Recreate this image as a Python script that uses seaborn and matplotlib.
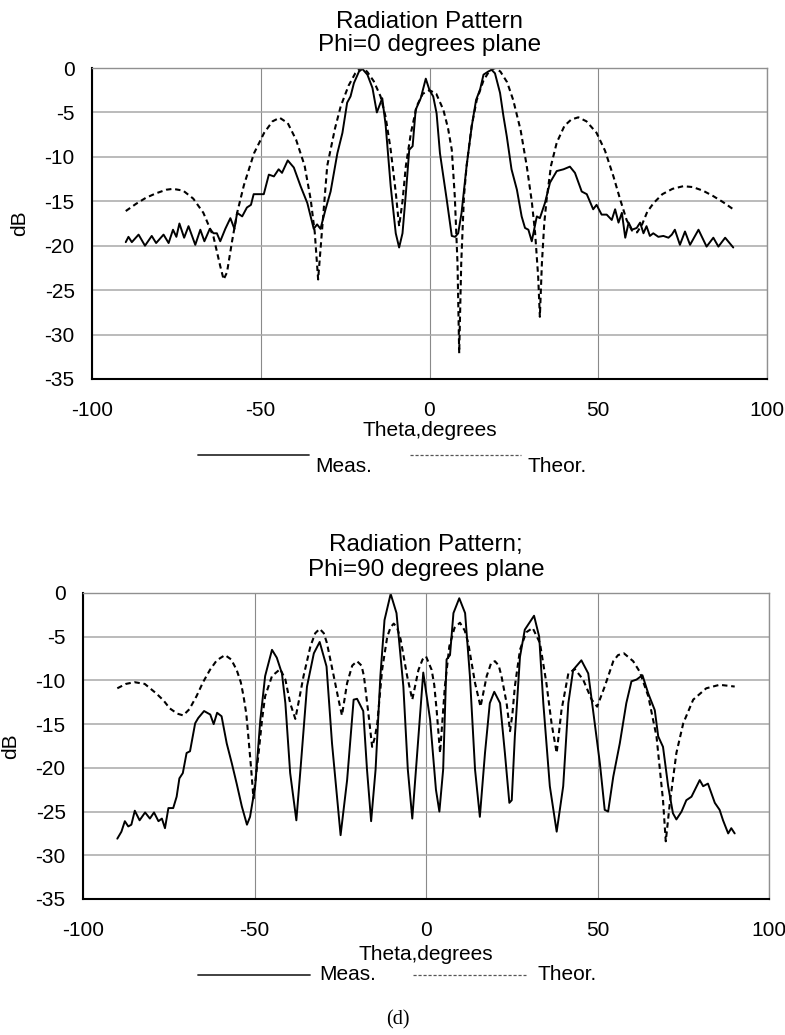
import matplotlib
matplotlib.use("Agg")
import matplotlib.pyplot as plt
from matplotlib.lines import Line2D
import pandas as pd
import seaborn as sns

# ---------------- Phi = 0 degrees plane ----------------
phi0_theor_theta = [-90, -87, -84, -81, -78, -76, -73, -70, -67, -64, -62, -61, -60, -58.5, -57, -55,
                    -52, -49, -46.5, -44.4, -42, -39.5, -37, -35.2, -34, -33, -32, -30.3, -28, -26.3,
                    -24, -22, -20.4, -18.5, -16.5, -14.5, -13, -11.5, -10, -9, -8, -7, -5.5, -3.8, -2,
                    0, 2, 4.1, 5.5, 6.6, 7.5, 8.3, 8.8, 9.4, 10.2, 11, 12.5, 14, 16, 17.8, 19.4, 21,
                    23, 24.8, 27, 28.8, 30.3, 31.3, 32.2, 32.7, 33.3, 34.0, 34.7, 36, 37.7, 40, 42,
                    44.1, 46.5, 49.5, 52, 54.5, 56.5, 58.4, 60, 61.5, 63, 64.5, 66.4, 69, 72, 75.2,
                    78, 81, 84, 87, 90]
phi0_theor_db = [-16.1, -15.3, -14.6, -14.1, -13.7, -13.6, -13.8, -14.7, -16.3, -19.0, -22.3, -23.8,
                 -23.0, -19.5, -16.3, -13.2, -9.6, -7.3, -6.0, -5.6, -6.2, -8.1, -11.0, -14.8, -18.5,
                 -23.8, -19.0, -11.0, -6.8, -4.3, -2.0, -0.6, 0.0, -0.4, -1.5, -3.2, -5.5, -9.2, -14.0,
                 -17.8, -15.0, -11.0, -7.3, -4.3, -2.9, -2.5, -2.9, -4.7, -6.8, -9.2, -14.5, -22.0,
                 -32.1, -22.0, -14.5, -11.0, -6.5, -3.6, -1.4, -0.3, 0.0, -0.4, -1.6, -3.6, -7.0,
                 -11.0, -15.0, -18.6, -23.5, -28.0, -22.0, -17.5, -14.8, -11.0, -8.4, -6.5, -5.8,
                 -5.55, -6.0, -7.3, -9.3, -12.2, -14.8, -17.1, -18.3, -18.5, -17.6, -16.2, -15.2,
                 -14.2, -13.6, -13.3, -13.4, -13.8, -14.4, -15.1, -15.9]

phi0_meas_theta = [-90, -89.2, -88.2, -86.2, -84.3, -82.3, -81.0, -78.8, -77.3, -76.0, -75.0, -74.1,
                   -72.7, -71.4, -69.4, -67.9, -66.7, -65.1, -64.0, -63.0, -62.0, -60.5, -59.0, -57.8,
                   -57.0, -55.5, -54.1, -52.9, -52.1, -50.1, -49.1, -47.6, -46.1, -44.7, -43.7, -42.0,
                   -40.2, -38.2, -36.2, -34.3, -33.3, -32.3, -30.8, -29.3, -27.3, -25.8, -24.4, -23.4,
                   -22.4, -20.9, -19.9, -18.4, -16.9, -15.6, -14.5, -14.0, -13.0, -11.5, -10.0, -9.0,
                   -8.0, -7.0, -6.0, -5.0, -4.1, -2.6, -1.1, 0.0, 1.1, 2.1, 3.1, 4.1, 5.1, 6.6, 7.6,
                   8.5, 9.5, 11.0, 12.5, 13.8, 15.0, 16.0, 17.4, 18.4, 19.4, 20.9, 21.9, 22.9, 24.3,
                   25.9, 27.3, 28.3, 29.3, 30.3, 31.8, 32.7, 34.2, 35.7, 37.7, 39.7, 41.6, 43.1, 45.1,
                   46.6, 48.5, 49.5, 51.0, 52.5, 54.0, 55.0, 56.0, 57.0, 58.0, 59.0, 60.0, 61.4, 62.4,
                   63.4, 64.3, 65.3, 66.3, 67.8, 69.3, 70.8, 71.8, 72.7, 74.2, 75.7, 77.2, 79.7, 82.1,
                   84.1, 85.6, 87.6, 90.0]
phi0_meas_db = [-19.6, -19.0, -19.6, -18.75, -20.0, -18.9, -19.7, -18.75, -19.7, -18.2, -19.0, -17.5,
                -19.1, -17.8, -19.9, -18.2, -19.5, -18.1, -18.6, -18.6, -19.5, -18.1, -16.9, -18.1,
                -16.3, -16.7, -15.7, -15.4, -14.2, -14.2, -14.2, -12.0, -12.2, -11.4, -11.8, -10.4,
                -11.2, -13.3, -15.2, -18.1, -17.6, -18.1, -15.9, -13.9, -9.6, -7.3, -3.9, -3.2, -1.7,
                -0.4, -0.1, -0.75, -2.25, -5.0, -3.9, -3.4, -6.4, -13.3, -18.6, -20.2, -18.6, -14.1,
                -9.2, -8.8, -4.7, -3.4, -1.2, -2.5, -3.2, -5.1, -9.6, -12.2, -14.8, -18.9, -19.0,
                -18.6, -16.3, -11.0, -6.6, -3.6, -2.4, -0.75, -0.4, -0.2, -0.6, -2.8, -5.4, -7.7,
                -11.4, -13.7, -16.7, -18.0, -18.2, -19.5, -16.7, -16.9, -15.2, -12.9, -11.6, -11.4,
                -11.1, -11.8, -13.9, -14.2, -15.9, -15.4, -16.5, -16.5, -17.1, -15.9, -17.4, -16.3,
                -19.1, -17.4, -18.2, -18.0, -17.4, -18.6, -17.8, -18.9, -18.6, -19.0, -18.9, -19.1,
                -18.75, -18.2, -19.9, -18.4, -19.9, -18.2, -20.1, -19.1, -20.1, -19.1, -20.2]

# ---------------- Phi = 90 degrees plane ----------------
phi90_theor_theta = [-90, -87.5, -85, -82, -78.6, -76.5, -74.7, -72.5, -70.8, -69, -66.9, -65, -63,
                     -61, -58.6, -56.8, -55.2, -54, -53.2, -52.4, -51.8, -51, -50.3, -49.6, -48.8,
                     -47.8, -46.9, -44.9, -42.5, -41, -39.6, -38.1, -37, -35.7, -33.7, -32.3, -31,
                     -29.8, -28.9, -26.9, -25.5, -24.5, -23, -21.5, -20.1, -18.8, -18.1, -16.7,
                     -15.7, -14.9, -14.2, -12.8, -11.3, -10.3, -9.4, -8.4, -7.4, -5.5, -4.0, -2.2,
                     -1.0, 0, 1.65, 2.4, 3.1, 4.1, 4.8, 5.5, 6.8, 8.3, 9.9, 11.3, 12.3, 14.3, 15.9,
                     17.7, 19, 20.1, 21.2, 22, 23.5, 24.5, 25.2, 25.9, 27.4, 29.2, 31.1, 33.2, 35.1,
                     36.6, 38.1, 39.5, 41.5, 43.4, 45.8, 48.3, 49.9, 52.1, 54.6, 56, 57.7, 60.4,
                     62.3, 64.8, 67.2, 69.1, 69.9, 71.1, 73, 75, 77.9, 81.7, 85.6, 90]
phi90_theor_db = [-10.9, -10.4, -10.2, -10.4, -11.5, -12.3, -13.2, -13.8, -14.0, -13.3, -11.8,
                  -10.2, -8.8, -7.7, -7.1, -7.6, -8.8, -10.2, -11.8, -13.8, -16.4, -20.0, -23.5,
                  -21.0, -18.3, -14.5, -11.8, -9.5, -8.7, -9.9, -12.6, -14.4, -12.2, -9.5, -6.1,
                  -4.6, -4.1, -4.6, -5.7, -9.5, -12.2, -14.0, -10.3, -8.3, -7.8, -8.3, -9.5, -14.1,
                  -17.6, -16.5, -14.9, -8.8, -5.0, -3.9, -3.5, -4.0, -5.3, -9.5, -12.2, -8.8, -7.6,
                  -7.25, -8.8, -10.5, -13.4, -18.3, -14.5, -10.7, -6.1, -4.0, -3.4, -4.3, -5.7,
                  -10.3, -13.0, -9.5, -8.0, -7.8, -8.3, -9.5, -12.6, -15.8, -13.8, -10.7, -6.5,
                  -4.5, -4.0, -5.7, -10.3, -14.9, -18.3, -13.4, -9.2, -8.7, -9.9, -12.2, -13.0,
                  -10.7, -7.8, -7.1, -6.9, -7.8, -9.0, -11.8, -16.4, -23.7, -28.4, -24.0, -18.3,
                  -14.9, -12.2, -10.9, -10.5, -10.7]

phi90_meas_theta = [-90, -88.8, -87.8, -86.8, -85.9, -84.9, -83.5, -81.9, -80.5, -79.3, -78.0, -77.0,
                    -76.1, -75.1, -73.7, -72.7, -71.9, -70.9, -69.8, -68.8, -67.3, -66.4, -64.7,
                    -62.9, -61.9, -60.9, -59.6, -58.1, -56.6, -55.2, -53.7, -52.2, -51.3, -49.8,
                    -48.3, -46.9, -44.9, -43.5, -42.0, -41.0, -39.6, -37.8, -36.6, -34.7, -32.7,
                    -31.0, -29.0, -27.4, -24.9, -23.0, -21.1, -20.1, -18.3, -17.2, -16.0, -14.7,
                    -13.3, -12.1, -10.3, -8.6, -6.6, -5.3, -4.0, -2.2, -0.8, 1.2, 2.9, 3.9, 5.0, 6.0,
                    7.0, 8.0, 9.7, 11.4, 12.8, 14.3, 15.7, 17.2, 18.6, 19.9, 21.6, 23.0, 24.3, 25.0,
                    25.9, 27.4, 28.8, 31.5, 33.0, 34.2, 36.1, 38.1, 40.0, 41.5, 42.9, 45.3, 47.3,
                    48.7, 50.7, 52.1, 53.1, 54.6, 56.5, 58.4, 59.9, 61.4, 63.1, 64.8, 66.7, 67.7,
                    69.1, 70.6, 72.0, 73.0, 74.5, 75.9, 77.4, 79.8, 80.8, 82.2, 84.2, 85.6, 86.6,
                    88.1, 89.0, 90.0]
phi90_meas_db = [-28.1, -27.3, -26.1, -26.7, -26.5, -24.9, -26.0, -25.1, -25.8, -25.1, -26.1, -25.8,
                 -26.9, -24.6, -24.6, -23.3, -21.2, -20.6, -18.3, -18.1, -14.9, -14.3, -13.5, -13.9,
                 -15.0, -13.7, -14.1, -17.2, -19.5, -21.8, -24.4, -26.5, -25.6, -22.1, -14.5, -9.5,
                 -6.5, -7.4, -9.2, -12.6, -20.6, -26.0, -20.2, -10.7, -6.9, -5.6, -8.4, -17.2, -27.7,
                 -21.4, -12.2, -12.1, -13.5, -20.2, -26.1, -20.2, -9.5, -3.1, -0.1, -2.3, -10.7,
                 -20.2, -25.8, -16.4, -9.1, -14.5, -22.5, -25.0, -20.2, -7.6, -7.1, -2.3, -0.6, -2.3,
                 -9.5, -20.2, -25.6, -18.3, -12.6, -11.3, -12.6, -18.3, -24.0, -23.7, -16.4, -7.3,
                 -4.2, -2.6, -5.0, -12.6, -22.1, -27.3, -22.1, -12.6, -8.8, -7.7, -9.2, -13.4, -19.5,
                 -24.8, -25.0, -21.0, -17.2, -12.6, -10.1, -9.9, -9.4, -11.5, -13.4, -16.4, -17.6,
                 -22.1, -25.2, -25.9, -25.0, -23.7, -23.3, -21.4, -22.1, -21.8, -24.0, -24.8, -26.0,
                 -27.5, -26.9, -27.5]

x_ticks = [-100, -50, 0, 50, 100]
y_ticks = [0, -5, -10, -15, -20, -25, -30, -35]
series_names = ["Meas.", "Theor."]

panels = [
    dict(title="Radiation Pattern\nPhi=0 degrees plane",
         meas=(phi0_meas_theta, phi0_meas_db), theor=(phi0_theor_theta, phi0_theor_db)),
    dict(title="Radiation Pattern;\nPhi=90 degrees plane",
         meas=(phi90_meas_theta, phi90_meas_db), theor=(phi90_theor_theta, phi90_theor_db)),
]

sns.set_style("white")
plt.rcParams["font.family"] = ["Liberation Sans", "DejaVu Sans"]
plt.rcParams["text.color"] = "black"
plt.rcParams["axes.labelcolor"] = "black"
plt.rcParams["xtick.labelcolor"] = "black"
plt.rcParams["ytick.labelcolor"] = "black"

W, H = 785, 1035
fig = plt.figure(figsize=(W / 100, H / 100), dpi=100)

def frac(x0, y0, x1, y1):
    return [x0 / W, 1 - y1 / H, (x1 - x0) / W, (y1 - y0) / H]

ax_boxes = [frac(92, 68, 767, 379), frac(83, 593, 769, 899)]
title_spacing = [1.08, 1.2]
title_pad = [12, 12]
xlabel_pad = [1, 4]
leg_line_y = [455, 975]
leg_text_y = [466, 975]
leg_meas = [(198, 309, 315), (198, 310, 319)]
leg_theor = [(410, 521, 528), (413, 526, 537)]

FS = 15
for i, p in enumerate(panels):
    ax = fig.add_axes(ax_boxes[i])
    mx, my = p["meas"]
    tx, ty = p["theor"]
    df_m = pd.DataFrame({"theta": mx, "dB": my})
    df_t = pd.DataFrame({"theta": tx, "dB": ty})
    sns.lineplot(data=df_m, x="theta", y="dB", ax=ax, color="black", lw=1.4,
                 sort=False, estimator=None)
    sns.lineplot(data=df_t, x="theta", y="dB", ax=ax, color="black", lw=1.5,
                 sort=False, estimator=None, linestyle=(0, (2.6, 1.8)))

    ax.set_xlim(-100, 100)
    ax.set_ylim(-35, 0)
    ax.set_xticks(x_ticks)
    ax.set_yticks(y_ticks)
    ax.set_xticklabels([str(v) for v in x_ticks], fontsize=FS)
    ax.set_yticklabels([str(v) for v in y_ticks], fontsize=FS)
    ax.tick_params(axis="both", length=4.5, width=0.8, color="#808080")
    ax.tick_params(axis="x", pad=11)
    ax.tick_params(axis="y", pad=8)
    ax.set_xlabel("Theta,degrees", fontsize=FS, labelpad=xlabel_pad[i])
    ax.set_ylabel("dB", fontsize=FS, labelpad=11)
    ax.yaxis.grid(True, color="#a8a8a8", lw=1.1)
    ax.xaxis.grid(True, color="#8a8a8a", lw=0.8)
    ax.set_axisbelow(True)
    for s in ["top", "right"]:
        ax.spines[s].set_color("#909090")
        ax.spines[s].set_linewidth(1.0)
    for s in ["left", "bottom"]:
        ax.spines[s].set_color("black")
        ax.spines[s].set_linewidth(1.5)

    ax.set_title(p["title"], fontsize=17.5, linespacing=title_spacing[i], pad=title_pad[i])

    # legend drawn beneath the axis label
    yl = 1 - leg_line_y[i] / H
    yt = 1 - leg_text_y[i] / H
    a0, a1, at = leg_meas[i]
    fig.add_artist(Line2D([a0 / W, a1 / W], [yl, yl], color="#333333", lw=1.3))
    fig.text(at / W, yt, series_names[0], fontsize=FS, va="center", ha="left")
    b0, b1, bt = leg_theor[i]
    fig.add_artist(Line2D([b0 / W, b1 / W], [yl, yl], color="#555555", lw=0.9,
                          linestyle=(0, (2.5, 1.5))))
    fig.text(bt / W, yt, series_names[1], fontsize=FS, va="center", ha="left")

fig.text(398 / W, 1 - 1020 / H, "(d)", fontsize=14.5, ha="center", va="center",
         family=["Liberation Serif", "DejaVu Serif"])

fig.savefig("out.png", dpi=100)
